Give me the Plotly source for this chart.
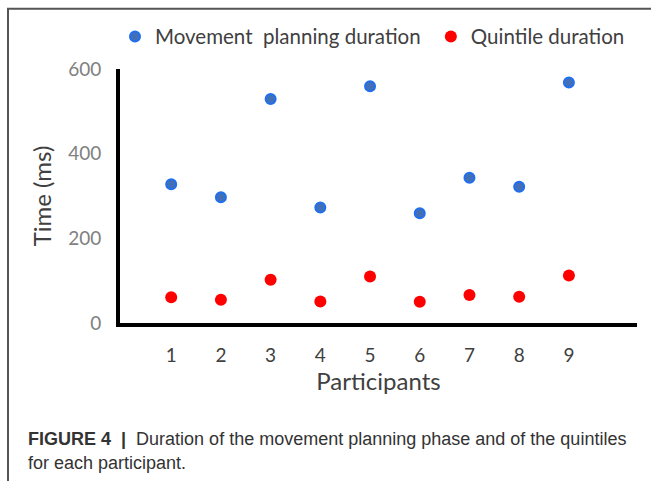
import plotly.graph_objects as go

participants = [1, 2, 3, 4, 5, 6, 7, 8, 9]
planning_ms = [328, 297, 529, 273, 559, 259, 343, 322, 568]
quintile_ms = [61, 55, 102, 51, 110, 50, 66, 62, 112]
y_ticks = [0, 200, 400, 600]

W, H = 651, 482
L, R, T, B = 120, 14, 68.5, 158.5
pw, ph = W - L - R, H - T - B


def px(x):
    return (x - L) / pw


def py(y):
    return (H - B - y) / ph


fig = go.Figure()
fig.add_trace(go.Scatter(
    x=participants, y=planning_ms, mode="markers",
    name="Movement\u00a0 planning duration\u00a0",
    marker=dict(size=10, color="#4170b8", line=dict(color="#1f6ff0", width=2)),
))
fig.add_trace(go.Scatter(
    x=participants, y=quintile_ms, mode="markers",
    name="Quintile duration",
    marker=dict(size=12, color="#ff0000", line=dict(width=0)),
))

fig.update_layout(
    width=W, height=H,
    margin=dict(l=L, r=R, t=T, b=B, autoexpand=False),
    paper_bgcolor="white", plot_bgcolor="white",
    font=dict(family="Lato", color="#404040"),
    showlegend=True,
    legend=dict(
        orientation="h", x=px(115), xanchor="left", y=py(36), yanchor="middle",
        font=dict(family="Lato", size=20.5, color="#404040"),
        bgcolor="rgba(0,0,0,0)", itemsizing="trace", tracegroupgap=0,
    ),
    xaxis=dict(
        range=[-0.03, 10.37], tickvals=participants, ticktext=[str(p) for p in participants],
        showline=True, linecolor="black", linewidth=4, showgrid=False, zeroline=False,
        ticks="", tickfont=dict(family="Lato", size=19, color="#404040"),
        ticklabelstandoff=12,
        title=dict(text="Participants", font=dict(family="Lato", size=24, color="#404040"), standoff=8),
    ),
    yaxis=dict(
        range=[0, 600], tickvals=y_ticks, ticktext=[str(v) for v in y_ticks],
        showline=True, linecolor="black", linewidth=4, showgrid=False, zeroline=False,
        ticks="", tickfont=dict(family="Lato", size=19, color="#808080"),
        ticklabelstandoff=11,
        title=dict(text="Time (ms)", font=dict(family="Lato", size=24, color="#404040"), standoff=11),
    ),
)

# frame (top and left edges) drawn as a path
fig.add_shape(type="path", xref="paper", yref="paper",
              path=f"M {px(8)},{py(482)} L {px(8)},{py(8)} L {px(651)},{py(8)}",
              line=dict(color="#555555", width=2), layer="above")

fig.add_annotation(
    xref="paper", yref="paper", x=px(26), y=py(440), xanchor="left", yanchor="middle",
    text="<b>FIGURE 4</b>\u00a0 <b>|</b>\u00a0 Duration of the movement planning phase and of the quintiles",
    showarrow=False, align="left",
    font=dict(family="Liberation Sans", size=18, color="#333333"),
)
fig.add_annotation(
    xref="paper", yref="paper", x=px(26), y=py(464), xanchor="left", yanchor="middle",
    text="for each participant.",
    showarrow=False, align="left",
    font=dict(family="Liberation Sans", size=18, color="#333333"),
)

fig.write_html(
    "out.html",
    config={"displayModeBar": False},
    post_script="document.body.style.margin='0';document.body.style.overflow='hidden';",
)
